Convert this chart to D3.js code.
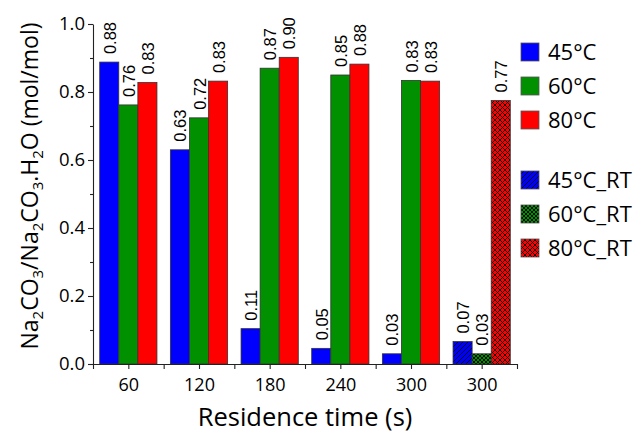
<!DOCTYPE html>
<html><head><meta charset="utf-8">
<script src="https://cdn.jsdelivr.net/npm/d3@7"></script>
<style>body{margin:0;background:#fff}svg{display:block}</style>
</head><body>
<svg id="c" width="636" height="434"></svg>
<script>
const categories = ["60","120","180","240","300","300"];
const rtGroup = [false,false,false,false,false,true];
const series = ["45°C","60°C","80°C"];
const values45 = [0.888,0.63,0.104,0.046,0.03,0.066];
const values60 = [0.762,0.724,0.870,0.850,0.834,0.030];
const values80 = [0.828,0.832,0.902,0.882,0.832,0.775];
const labels45 = ["0.88","0.63","0.11","0.05","0.03","0.07"];
const labels60 = ["0.76","0.72","0.87","0.85","0.83","0.03"];
const labels80 = ["0.83","0.83","0.90","0.88","0.83","0.77"];
const legendNames = ["45°C","60°C","80°C","45°C_RT","60°C_RT","80°C_RT"];
const yTicks = [0,0.2,0.4,0.6,0.8,1.0];
const colors = ["#0000ff","#009000","#ff0000"];

const svg = d3.select("#c");
const X0 = 93, X1 = 517, Y0 = 364, Y1 = 24;
const x = d3.scaleBand().domain(d3.range(categories.length)).range([X0,X1]).paddingInner(0.19).paddingOuter(0.095);
const xs = d3.scaleBand().domain(d3.range(series.length)).range([0,x.bandwidth()]);
const xl = d3.scaleLinear().domain([0,categories.length]).range([X0,X1]);
const y = d3.scaleLinear().domain([0,1]).range([Y0,Y1]);

// patterns
const defs = svg.append("defs");
function pat(id, color, size, d, sw){
  const p = defs.append("pattern").attr("id",id).attr("patternUnits","userSpaceOnUse")
    .attr("width",size).attr("height",size);
  p.append("rect").attr("width",size).attr("height",size).attr("fill",color);
  p.append("path").attr("d",d).attr("stroke","#000").attr("stroke-width",sw).attr("fill","none");
}
pat("p0", colors[0], 5, "M-1,1 l2,-2 M0,5 l5,-5 M4,6 l2,-2", 1);
pat("p1", colors[1], 4, "M0,0 l4,4 M4,0 l-4,4", 0.9);
pat("p2", colors[2], 5, "M0,0 l5,5 M5,0 l-5,5", 0.9);

const valArr = [values45, values60, values80];
const labArr = [labels45, labels60, labels80];
const bars = [];
categories.forEach((c,i)=>{
  series.forEach((s,j)=>{
    bars.push({g:i, s:j, v:valArr[j][i], lab:labArr[j][i], rt:rtGroup[i]});
  });
});

svg.append("g").selectAll("rect").data(bars).join("rect")
  .attr("x",d=>x(d.g)+xs(d.s)).attr("width",xs.bandwidth())
  .attr("y",d=>y(d.v)).attr("height",d=>y(0)-y(d.v))
  .attr("fill",d=>d.rt?`url(#p${d.s})`:colors[d.s])
  .attr("stroke","#333").attr("stroke-width",0.8);

svg.append("g").selectAll("text").data(bars).join("text")
  .attr("transform",d=>`translate(${x(d.g)+xs(d.s)+xs.bandwidth()/2+6.5},${y(d.v)-8}) rotate(-90)`)
  .attr("font-family","Liberation Sans, Arial, sans-serif").attr("font-size",16.5)
  .attr("fill","#000").text(d=>d.lab);

// axes
const yAxis = d3.axisLeft(y).tickValues(yTicks).tickFormat(d3.format(".1f")).tickSize(5).tickSizeOuter(0).tickPadding(3);
const ga = svg.append("g").attr("transform",`translate(${X0},0)`).call(yAxis);
ga.selectAll("text").attr("font-family","Open Sans, sans-serif").attr("font-size",18.5).attr("fill","#000");
const yMinor = d3.axisLeft(y).tickValues([0.1,0.3,0.5,0.7,0.9]).tickFormat("").tickSize(3);
const gm = svg.append("g").attr("transform",`translate(${X0},0)`).call(yMinor);
gm.select(".domain").remove();

const xAxis = d3.axisBottom(xl).tickValues(d3.range(0,categories.length+0.01,0.5))
  .tickFormat(d=> (d%1!==0) ? categories[Math.floor(d)] : "").tickSize(5).tickSizeOuter(0).tickPadding(9);
const gx = svg.append("g").attr("transform",`translate(0,${Y0})`).call(xAxis);
gx.selectAll("text").attr("font-family","Open Sans, sans-serif").attr("font-size",18).attr("fill","#000");
svg.selectAll(".domain, .tick line").attr("stroke","#222").attr("stroke-width",1.1);

// titles
svg.append("text").attr("x",(X0+X1)/2).attr("y",426).attr("text-anchor","middle")
  .attr("font-family","Open Sans, sans-serif").attr("font-size",25.5).text("Residence time (s)");
const yt = svg.append("text").attr("transform","translate(38,186) rotate(-90)").attr("text-anchor","middle")
  .attr("font-family","Open Sans, sans-serif").attr("font-size",23);
const parts = [["Na",0],["2",1],["CO",0],["3",1],["/Na",0],["2",1],["CO",0],["3",1],[".H",0],["2",1],["O (mol/mol)",0]];
parts.forEach(([t,sub])=>{
  const ts = yt.append("tspan").text(t);
  if(sub) ts.attr("font-size",15).attr("dy",5);
});
yt.selectAll("tspan").each(function(d,i){
  if(i>0 && !parts[i][1] && parts[i-1][1]) d3.select(this).attr("dy",-5);
});

// legend
const lg = svg.append("g");
const legY = [52,86,120,180,214,248];
legendNames.forEach((n,i)=>{
  const si = i%3, rt = i>=3;
  lg.append("rect").attr("x",521).attr("y",legY[i]-9).attr("width",18).attr("height",18)
    .attr("fill",rt?`url(#p${si})`:colors[si]).attr("stroke","#555").attr("stroke-width",0.8);
  lg.append("text").attr("x",548).attr("y",legY[i]+8).attr("font-family","Open Sans, sans-serif")
    .attr("font-size",22).text(n);
});
</script>
</body></html>
